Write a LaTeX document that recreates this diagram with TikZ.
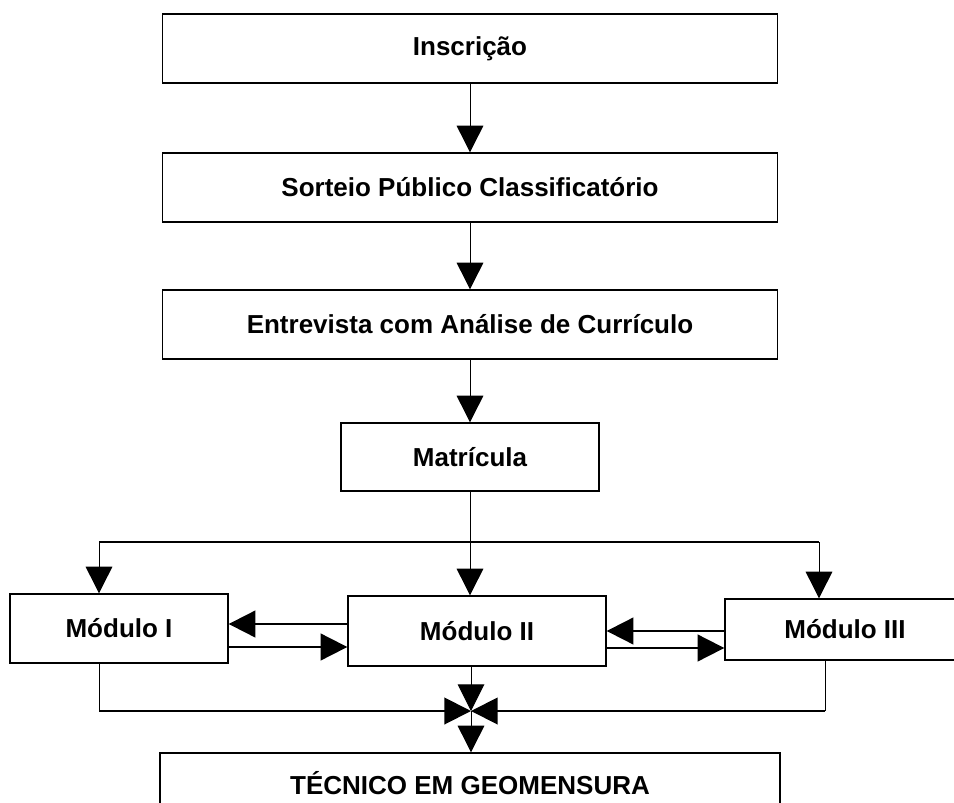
\documentclass[tikz,border=0pt]{standalone}
\usepackage{fontspec}
\setmainfont{Liberation Sans}
\usetikzlibrary{arrows.meta,positioning}

\begin{document}
\begin{tikzpicture}[x=0.75pt, y=-0.75pt, >={Triangle[length=20pt,width=20pt]}]
 \tikzset{
etapa/.style = {rectangle, draw=black, line width=1pt, minimum width=461.25pt, minimum height=51.75pt, inner sep=0pt, font=\fontsize{19.5}{23}\selectfont\bfseries},
modulo/.style = {etapa, minimum height=51.75pt},
seta/.style = {->, line width=0.75pt},
barra/.style = {line width=1.5pt}}

    \useasboundingbox (0,0) rectangle (954,803);

    \node [etapa] (insc) at (470,48.5) {Inscrição};
    \node [etapa] (sort) at (470,187.5) {Sorteio Público Classificatório};
    \node [etapa] (entr) at (470,324.5) {Entrevista com Análise de Currículo};
    \node [etapa] (matr)[minimum width=193.5pt, minimum height=51pt] at (470,457) {Matrícula};

    \node [modulo] (mod1)[minimum width=163.5pt] at (119,628.5) {Módulo I};
    \node [modulo] (mod2)[minimum width=193.5pt, minimum height=52.5pt] at (477,631) {Módulo II};
    \node [modulo] (mod3)[minimum width=180pt, minimum height=45.75pt] at (845,629.5) {Módulo III};
    \node [etapa] (tec)[minimum width=465pt, minimum height=45pt] at (470,783) {TÉCNICO EM GEOMENSURA};

    \coordinate (split) at (470,542);
    \coordinate (left) at (99,542);
    \coordinate (right) at (819,542);
    \coordinate (join) at (471,711);
    \coordinate (out3) at (825,711);

    \draw [seta] (insc) -- (sort);
    \draw [seta] (sort) -- (entr);
    \draw [seta] (entr) -- (matr);

    % distribuicao
    \draw [line width=0.75pt] (matr.south) -- (split);
    \draw [line width=1pt] (left) -- (right);
    \draw [seta] (left) -- (left |- mod1.north);
    \draw [seta] (split) -- (split |- mod2.north);
    \draw [seta] (right) -- (right |- mod3.north);

    \draw [seta, barra] ([yshift=5.25pt]mod2.west) -- ([yshift=5.25pt]mod2.west -| mod1.east);
    \draw [seta, barra] ([yshift=-12pt]mod2.west -| mod1.east) -- ([yshift=-12pt]mod2.west);
    \draw [seta, barra] (mod3.west |- mod2.east) -- (mod2.east);
    \draw [seta, barra] ([yshift=-12.75pt]mod2.east) -- ([yshift=-12.75pt]mod2.east -| mod3.west);

    % juncao
    \draw [line width=0.75pt] (left |- mod1.south) -- (left |- join);
    \draw [seta, barra] (left |- join) -- (join);
    \draw [line width=0.75pt] (out3 |- mod3.south) -- (out3);
    \draw [seta, barra] (out3) -- (join);
    \draw [seta] (join |- mod2.south) -- (join);
    \draw [seta] (join) -- (join |- tec.north);

  \end{tikzpicture}
\end{document}
